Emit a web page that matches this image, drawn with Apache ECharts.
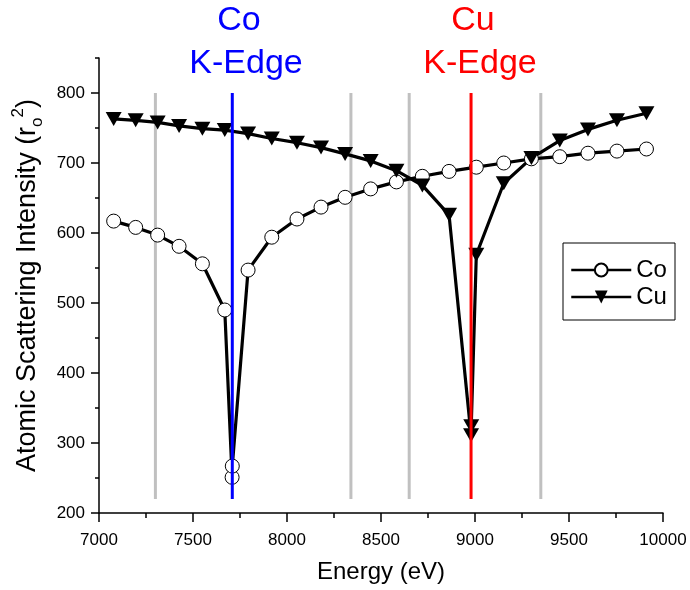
<!DOCTYPE html>
<html>
<head>
<meta charset="utf-8">
<script src="https://cdn.jsdelivr.net/npm/echarts@6/dist/echarts.min.js"></script>
<style>
html,body{margin:0;padding:0;background:#fff;}
#c{width:690px;height:590px;}
</style>
</head>
<body>
<div id="c"></div>
<script>
// ---- data ----
const coEnergy    = [7078, 7195, 7312, 7426, 7550, 7669, 7708, 7709, 7793, 7919, 8053, 8181, 8309, 8445, 8582, 8720, 8862, 9007, 9153, 9300, 9451, 9601, 9755, 9912];
const coIntensity = [617, 608, 597, 581, 556, 490, 251, 267, 547, 594, 620, 637, 651, 663, 673, 681, 688, 694, 700, 706, 709, 714, 717, 720];
const cuEnergy    = [7078, 7195, 7312, 7426, 7550, 7669, 7793, 7919, 8053, 8181, 8309, 8445, 8582, 8720, 8862, 8979, 8980, 9007, 9153, 9300, 9451, 9601, 9755, 9912];
const cuIntensity = [763, 761, 758, 753, 749, 747, 742, 735, 729, 722, 713, 703, 689, 668, 626, 311, 324, 569, 671, 707, 732, 748, 761, 771];
const edgeEnergy  = [7709, 8979];          // Co, Cu K-edges
const guideEnergy = [7300, 8340, 8650, 9350];
const markerRange = [220, 800];
const yMajorTicks = [200, 300, 400, 500, 600, 700, 800];
const yMinorTicks = [250, 350, 450, 550, 650, 750, 850];

const FONT = '"Liberation Sans", Arial, sans-serif';
const pairs = (xs, ys) => xs.map((x, i) => [x, ys[i]]);

const series = [];
guideEnergy.forEach(e => series.push({
  type: 'line', silent: true, symbol: 'none', z: 1,
  data: markerRange.map(v => [e, v]),
  lineStyle: { color: '#c0c0c0', width: 3 }
}));
series.push({
  name: 'Co', type: 'line', z: 3,
  data: pairs(coEnergy, coIntensity),
  symbol: 'circle', symbolSize: 14,
  itemStyle: { color: '#ffffff', borderColor: '#000000', borderWidth: 1 },
  lineStyle: { color: '#000000', width: 3.2 }
});
series.push({
  name: 'Cu', type: 'line', z: 3,
  data: pairs(cuEnergy, cuIntensity),
  symbol: 'triangle', symbolSize: [16, 14], symbolRotate: 180,
  itemStyle: { color: '#000000' },
  lineStyle: { color: '#000000', width: 3.2 }
});
const edgeColors = ['#0000ff', '#ff0000'];
edgeEnergy.forEach((e, i) => series.push({
  type: 'line', silent: true, symbol: 'none', z: 5,
  data: markerRange.map(v => [e, v]),
  lineStyle: { color: edgeColors[i], width: 3 }
}));

const chart = echarts.init(document.getElementById('c'), null, { renderer: 'canvas' });
const axisCommon = {
  axisLine: { lineStyle: { color: '#000', width: 1.5 } },
  splitLine: { show: false }
};
chart.setOption({
  animation: false,
  backgroundColor: '#ffffff',
  grid: { left: 99, right: 27, top: 58, bottom: 77, containLabel: false },
  legend: {
    data: ['Co', 'Cu'],
    orient: 'vertical', left: 570, top: 258, padding: 0,
    itemWidth: 60, itemHeight: 16, itemGap: 3,
    lineStyle: { width: 2.5 },
    textStyle: { fontSize: 24, fontFamily: FONT, color: '#000' }
  },
  xAxis: Object.assign({
    type: 'value', min: 7000, max: 10000, interval: 500,
    name: 'Energy (eV)', nameLocation: 'middle', nameGap: 47,
    nameTextStyle: { fontSize: 24, fontFamily: FONT, color: '#000' },
    axisTick: { length: 9, lineStyle: { color: '#000', width: 1.5 } },
    minorTick: { show: true, splitNumber: 2, length: 5, lineStyle: { color: '#000', width: 1.5 } },
    minorSplitLine: { show: false },
    axisLabel: { fontSize: 17, fontFamily: FONT, color: '#000', margin: 19, formatter: v => String(v) }
  }, axisCommon),
  yAxis: [Object.assign({
    type: 'value', min: 200, max: 850, interval: 100,
    name: 'Atomic Scattering Intensity (r{sub|o}{sup|2})',
    nameLocation: 'middle', nameGap: 48,
    nameTextStyle: {
      fontSize: 27, fontFamily: FONT, color: '#000', lineHeight: 36,
      rich: {
        sub: { fontSize: 17, fontFamily: FONT, color: '#000', lineHeight: 17, verticalAlign: 'bottom' },
        sup: { fontSize: 17, fontFamily: FONT, color: '#000', lineHeight: 17, verticalAlign: 'top' }
      }
    },
    axisTick: { length: 8, customValues: yMajorTicks, lineStyle: { color: '#000', width: 1.5 } },
    axisLabel: { fontSize: 17, fontFamily: FONT, color: '#000', margin: 14, customValues: yMajorTicks, formatter: v => String(v) }
  }, axisCommon), {
    type: 'value', min: 200, max: 850, position: 'left',
    axisLine: { show: false }, splitLine: { show: false },
    axisLabel: { show: false },
    axisTick: { length: 4, customValues: yMinorTicks, lineStyle: { color: '#000', width: 1.5 } }
  }],
  graphic: [
    { type: 'text', x: 239, y: 21, z: 10, style: { text: 'Co', fill: '#0000ff', fontSize: 34, fontFamily: FONT, align: 'center', verticalAlign: 'middle' } },
    { type: 'text', x: 246, y: 64, z: 10, style: { text: 'K-Edge', fill: '#0000ff', fontSize: 34, fontFamily: FONT, align: 'center', verticalAlign: 'middle' } },
    { type: 'text', x: 473, y: 21, z: 10, style: { text: 'Cu', fill: '#ff0000', fontSize: 34, fontFamily: FONT, align: 'center', verticalAlign: 'middle' } },
    { type: 'text', x: 480, y: 64, z: 10, style: { text: 'K-Edge', fill: '#ff0000', fontSize: 34, fontFamily: FONT, align: 'center', verticalAlign: 'middle' } },
    { type: 'rect', x: 563, y: 243, z: 10, shape: { width: 112, height: 77 }, style: { fill: 'none', stroke: '#000', lineWidth: 1 } }
  ],
  series: series
});
</script>
</body>
</html>
